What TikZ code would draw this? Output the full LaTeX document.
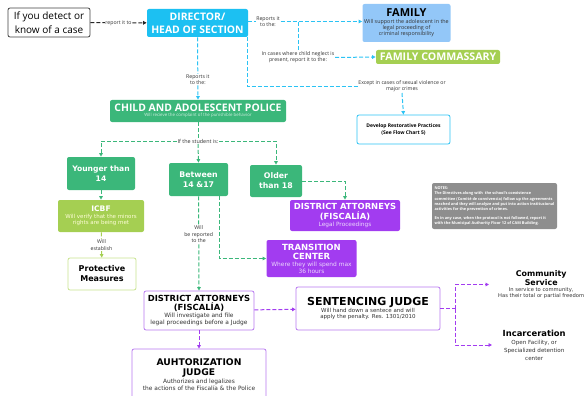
\documentclass[tikz,border=0pt]{standalone}
\usepackage{fontspec}
\setmainfont{Open Sans}
\newfontfamily\vfont{DejaVu Sans}
\usetikzlibrary{arrows.meta}
\definecolor{cyF}{HTML}{1CC0F2}
\definecolor{cyL}{HTML}{2BC3F4}
\definecolor{grF}{HTML}{3BB77A}
\definecolor{lgF}{HTML}{A5CF52}
\definecolor{lgB}{HTML}{C8E38E}
\definecolor{puF}{HTML}{A23CF0}
\definecolor{puB}{HTML}{B878F0}
\definecolor{famB}{HTML}{93C7F8}
\definecolor{grayN}{HTML}{8E8E8E}
\definecolor{txt}{HTML}{333333}
\newcommand\fs[2]{\fontsize{#1}{#2}\selectfont}
\tikzset{
  box/.style={rounded corners=2pt, align=flush center, inner sep=1pt, line width=0.8pt},
  lbl/.style={font=\fs{5.2}{6.2}, text=txt, align=center, fill=white, inner sep=0.6pt},
  dl/.style={dash pattern=on 4pt off 2pt, line width=1pt, -{Triangle[length=3.5pt,width=3.6pt]}},
  dn/.style={dash pattern=on 4pt off 2pt, line width=1pt},
}
\begin{document}
\begin{tikzpicture}[x=1pt,y=-1pt]
\useasboundingbox (0,0) rectangle (584,396);
% nodes
\node[box, draw=black!75, fill=white, minimum width=82, minimum height=29, text width=78] (start) at (49,22.5)
  {\fs{10}{13.5}If you detect or\\know of a case\par};
\node[box, fill=cyF, minimum width=101, minimum height=28, text width=99, text=white] (director) at (197.5,23)
  {\fs{10.4}{13}\bfseries DIRECTOR/\\HEAD OF SECTION\par};
\node[box, fill=famB, minimum width=87, minimum height=38, text width=86] (family) at (406.5,23)
  {{\fs{11}{12}\bfseries FAMILY\par}{\fs{5.4}{6.2}\color{txt}Will support the adolescent in the\\legal proceeding of\\criminal responsibility\par}};
\node[box, fill=lgF, minimum width=124, minimum height=14, text width=122, text=white] (commassary) at (438,57)
  {\fs{10.6}{11}\bfseries FAMILY COMMASSARY\par};
\node[box, fill=grF, minimum width=176, minimum height=22, text width=174, text=white] (police) at (198,111)
  {{\fs{10.4}{11}\bfseries CHILD AND ADOLESCENT POLICE\par}{\fs{4.4}{5.5}\color{white!75!grF}Will recieve the complaint of the punishible behavior\par}};
\node[box, draw=cyL, fill=white, minimum width=93, minimum height=29, text width=89] (restor) at (403.5,129.5)
  {\fs{5}{6.5}\bfseries Develop Restorative Practices\\(See Flow Chart 5)\par};
\node[box, fill=grF, minimum width=68, minimum height=33, text width=66, text=white] (younger) at (101,173.5)
  {\vfont\fs{7.6}{10}\bfseries Younger than\\14\par};
\node[box, fill=grF, minimum width=59, minimum height=33, text width=57, text=white] (between) at (198.5,179.5)
  {\vfont\fs{7.8}{10}\bfseries Between\\14 \&17\par};
\node[box, fill=grF, minimum width=52, minimum height=32, text width=50, text=white] (older) at (276,181)
  {\vfont\fs{7.8}{10}\bfseries Older\\than 18\par};
\node[box, fill=lgF, minimum width=86, minimum height=32, text width=84, text=white] (icbf) at (101,216)
  {\vfont{\fs{7.6}{9}\bfseries ICBF\par}{\fs{5.5}{6.6}\color{white!85!yellow}Will verify that the minors\\rights are being met\par}};
\node[box, draw=lgB, fill=white, minimum width=68, minimum height=32, text width=64] (protect) at (102,274)
  {\vfont\fs{8}{10}\bfseries Protective\\Measures\par};
\node[box, fill=puF, minimum width=110, minimum height=31, text width=108, text=white] (da1) at (345,215.5)
  {\vfont{\fs{8.4}{9.5}\bfseries DISTRICT ATTORNEYS\\(FISCALÍA)\par}{\fs{5.8}{6.6}\color{white!80!puF}Legal Proceedings\par}};
\node[box, fill=puF, minimum width=89, minimum height=37, text width=88, text=white] (transition) at (311.5,258.5)
  {\vfont{\fs{8.5}{9.6}\bfseries TRANSITION\\CENTER\par}{\fs{5.9}{6.6}\color{white!80!puF}Where they will spend max\\36 hours\par}};
\node[box, draw=puB, fill=white, minimum width=110, minimum height=39, text width=108] (da2) at (199,310.5)
  {\vfont{\fs{8.4}{9.5}\bfseries DISTRICT ATTORNEYS\\(FISCALÍA)\par}{\fs{5.9}{7}\color{txt}Will investigate and file\\legal proceedings before a Judge\par}};
\node[box, draw=puB, fill=white, minimum width=144, minimum height=43, text width=142] (sentencing) at (368,308.5)
  {\vfont{\fs{11}{11.5}\bfseries SENTENCING JUDGE\par}{\fs{5.5}{6.5}\color{txt}Will hand down a sentece and will\\apply the penalty. Res. 1301/2010\par}};
\node[box, draw=puB, fill=white, minimum width=134, minimum height=52, text width=132] (authorize) at (199,375)
  {\vfont{\fs{9.2}{9.8}\bfseries AUHTORIZATION\\JUDGE\par}{\fs{5.9}{7.5}\color{txt}Authorizes and legalizes\\the actions of the Fiscalía \& the Police\par}\vspace{1.5pt}};
\node[box, fill=grayN, minimum width=125, minimum height=46, text width=124, inner xsep=0.5pt, text=white, align=flush left] (notes) at (494.5,206)
  {\hspace*{2pt}\parbox{121pt}{\raggedright\fs{3.85}{5.3}\bfseries NOTES:\\*The Directives along with\ \ the school's coexistence\\committee (Comité de convivencia) follow up the agreements\\reached and they will analyze and put into action institucional\\activities for the prevention of crimes.\par\vspace{3pt}En in any case, when the protocol is not followed, report it\\with the Municipal Authority Floor 12 of CAM Building.\par}};
\node[align=flush center, inner xsep=5pt, inner ysep=0pt, anchor=west, text width=94] (comm) at (489,284.5)
  {\vfont{\fs{7.9}{9}\bfseries Community\\Service\par}{\fs{5.2}{6.2}\color{txt}In service to community,\\Has their total or partial freedom\par}};
\node[align=flush center, inner xsep=2pt, inner ysep=0pt, anchor=west, text width=80] (incar) at (492,345)
  {\vfont{\fs{8.4}{9}\bfseries Incarceration\par}{\fs{5.6}{8}\color{txt}Open Facility, or\\Specialized detention\\center\par}};
% label nodes
\node[lbl] (rep1) at (268,21.5) {Reports it\\to the:};
\node[lbl] (neg) at (298,57.5) {In cases where child neglect is\\present, report it to the:};
\node[lbl] (exc) at (402,86.5) {Except in cases of sexual violence or\\major crimes};
\node[lbl] (ifst) at (198,141) {\fs{5.4}{6}If the student is:};
\coordinate (dsplit) at (455,308.5);
\coordinate (dirR) at (247,37);
\coordinate (betR) at (219,196);
\coordinate (br1) at (298,22);
% connectors
\draw[dl, black!85] (start) -- node[lbl]{report it to} (director);
\draw[dn, cyL] (director.east |- rep1) -- (rep1.west);
\draw[dl, cyL] (rep1.east) -- (family.west |- rep1);
\draw[dn, cyL] (br1) -- (neg.north);
\draw[dl, cyL] (neg.east) -- (commassary.west);
\draw[dl, cyL] (director.south) -- node[lbl, pos=0.68]{Reports it\\to the:} (police.north);
\draw[dn, cyL] (dirR) |- (exc.west);
\draw[dl, cyL] (exc.south) -- (restor.north);
\draw[dn, grF] (police.south) -- (ifst.north);
\draw[dl, grF] (ifst.west) -| (younger.north);
\draw[dl, grF] (ifst.south) -- (between.north);
\draw[dl, grF] (ifst.east) -| (older.north);
\draw[dl, grF] (younger) -- (icbf);
\draw[dl, lgF] (icbf) -- node[lbl]{Will\\establish} (protect);
\draw[dl, grF] (older.east) -| (da1.north);
\draw[dl, grF] (betR) |- (transition.west);
\draw[dl, grF] (between.south) -- node[lbl, pos=0.4]{Will\\be reported\\to the} (da2.north);
\draw[dl, puF] (da2) -- (sentencing);
\draw[dl, puF] (da2) -- (authorize);
\draw[dn, puF] (sentencing.east) -- (dsplit);
\draw[dl, puF] (dsplit) |- (comm.west);
\draw[dl, puF] (dsplit) |- (incar.west);
\end{tikzpicture}
\end{document}
